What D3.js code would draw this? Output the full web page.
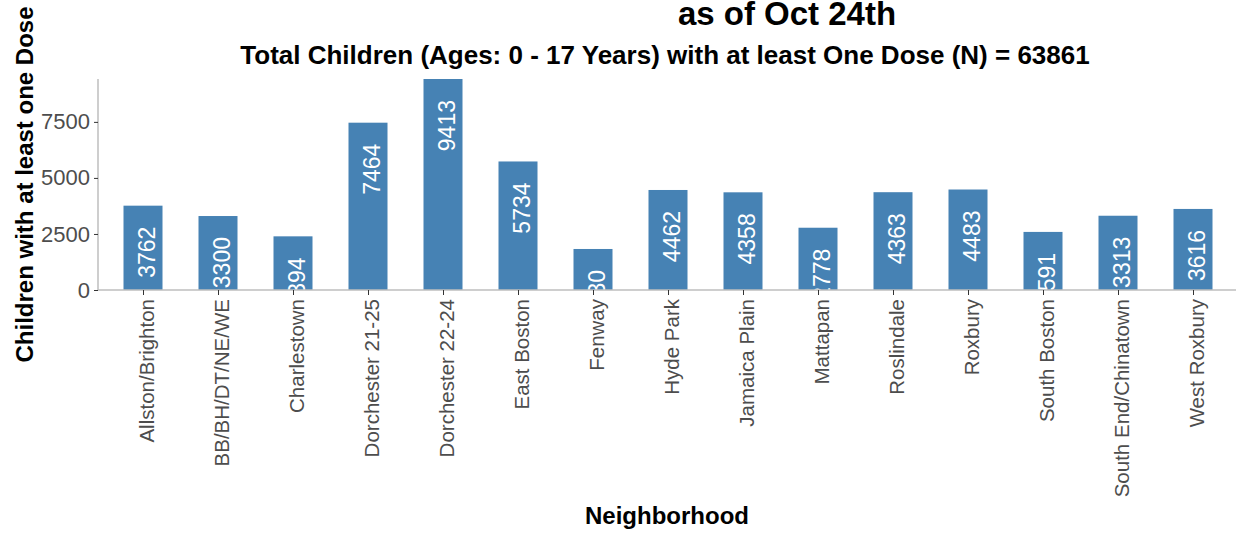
<!DOCTYPE html>
<html>
<head>
<meta charset="utf-8">
<script src="https://cdn.jsdelivr.net/npm/d3@7"></script>
<style>
  body { margin: 0; background: #fff; }
  svg { font-family: "Liberation Sans", Arial, sans-serif; }
</style>
</head>
<body>
<div id="chart"></div>
<script>
const neighborhoods = ["Allston/Brighton", "BB/BH/DT/NE/WE", "Charlestown", "Dorchester 21-25",
  "Dorchester 22-24", "East Boston", "Fenway", "Hyde Park", "Jamaica Plain", "Mattapan",
  "Roslindale", "Roxbury", "South Boston", "South End/Chinatown", "West Roxbury"];
const doses = [3762, 3300, 2394, 7464, 9413, 5734, 1830, 4462, 4358, 2778, 4363, 4483, 2591, 3313, 3616];
const yTicks = [0, 2500, 5000, 7500];

const width = 1236, height = 535;
const plotL = 98, plotR = 1238, plotT = 79, plotB = 290;

const svg = d3.select("#chart").append("svg")
  .attr("width", width).attr("height", height);

const x = d3.scalePoint().domain(neighborhoods).range([plotL, plotR]).padding(0.6);
const y = d3.scaleLinear().domain([0, d3.max(doses)]).range([plotB, plotT]);
const barW = x.step() * 0.52;

svg.append("defs").append("clipPath").attr("id", "panel")
  .append("rect").attr("x", plotL).attr("y", plotT - 2)
  .attr("width", plotR - plotL).attr("height", plotB - plotT + 2);

const panel = svg.append("g").attr("clip-path", "url(#panel)");

panel.selectAll("rect.bar")
  .data(neighborhoods)
  .join("rect")
  .attr("class", "bar")
  .attr("x", d => x(d) - barW / 2)
  .attr("width", barW)
  .attr("y", (d, i) => y(doses[i]))
  .attr("height", (d, i) => y(0) - y(doses[i]))
  .attr("fill", "#4682B4");

panel.selectAll("text.val")
  .data(neighborhoods)
  .join("text")
  .attr("class", "val")
  .attr("transform", (d, i) => `translate(${x(d) + 3.5},${y(doses[i]) + 21}) rotate(-90)`)
  .attr("text-anchor", "end")
  .attr("dy", "0.35em")
  .attr("fill", "#fff")
  .style("font-size", "23px")
  .text((d, i) => doses[i]);

// y axis
const yAxis = svg.append("g").attr("transform", `translate(${plotL},0)`)
  .call(d3.axisLeft(y).tickValues(yTicks).tickSize(4).tickPadding(4).tickFormat(d3.format("d")));
yAxis.select(".domain").attr("stroke", "#bebebe").attr("stroke-width", 1.5)
  .attr("d", `M0,${plotT}V${plotB}`);
yAxis.selectAll(".tick line").attr("stroke", "#333");
yAxis.selectAll(".tick text").attr("fill", "#4d4d4d").style("font-size", "22px");

// x axis
const xAxis = svg.append("g").attr("transform", `translate(0,${plotB})`)
  .call(d3.axisBottom(x).tickSize(5));
xAxis.select(".domain").attr("stroke", "#bebebe").attr("stroke-width", 1.5)
  .attr("d", `M${plotL},0H${plotR}`);
xAxis.selectAll(".tick line").attr("stroke", "#333");
xAxis.selectAll(".tick text")
  .attr("fill", "#4d4d4d")
  .style("font-size", "20.5px")
  .attr("text-anchor", "end")
  .attr("transform", "translate(3,9) rotate(-90)")
  .attr("x", 0).attr("y", 0).attr("dy", "0.35em");

// titles
svg.append("text").attr("x", 787).attr("y", 25).attr("text-anchor", "middle")
  .style("font-size", "33px").style("font-weight", "bold").text("as of Oct 24th");
svg.append("text").attr("x", 665).attr("y", 64).attr("text-anchor", "middle")
  .style("font-size", "26px").style("font-weight", "bold")
  .text("Total Children (Ages: 0 - 17 Years) with at least One Dose (N) = 63861");
svg.append("text").attr("x", 667).attr("y", 524).attr("text-anchor", "middle")
  .style("font-size", "24px").style("font-weight", "bold").text("Neighborhood");
svg.append("text").attr("transform", `translate(33,${(plotT + plotB) / 2}) rotate(-90)`)
  .attr("text-anchor", "middle")
  .style("font-size", "24px").style("font-weight", "bold").text("Children with at least one Dose");
</script>
</body>
</html>
